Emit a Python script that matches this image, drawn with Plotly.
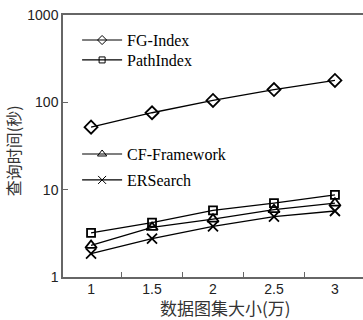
import plotly.graph_objects as go

sizes = [1, 1.5, 2, 2.5, 3]
size_labels = ["1", "1.5", "2", "2.5", "3"]
fg_index = [52, 76, 105, 140, 178]
path_index = [3.2, 4.2, 5.8, 7.0, 8.7]
cf_framework = [2.3, 3.7, 4.6, 5.9, 7.0]
er_search = [1.85, 2.75, 3.8, 4.9, 5.7]
y_ticks = [1, 10, 100, 1000]
y_tick_labels = ["1", "10", "100", "1000"]

fig = go.Figure()
series = [
    ("FG-Index", fg_index, "diamond-open", 10, 7, "legend"),
    ("PathIndex", path_index, "square-open", 8, 6, "legend2"),
    ("CF-Framework", cf_framework, "triangle-up-open", 10, 8, "legend3"),
    ("ERSearch", er_search, "x-thin-open", 10, 8, "legend4"),
]
for name, vals, sym, sz, lsz, lg in series:
    fig.add_trace(go.Scatter(
        x=sizes, y=vals, name=name, mode="lines+markers",
        line=dict(color="black", width=1.3),
        marker=dict(symbol=sym, size=sz, color="black",
                    line=dict(color="black", width=1.8)),
        showlegend=False,
    ))
    # legend-only entry with the smaller, thinner marker of the reference
    fig.add_trace(go.Scatter(
        x=[None], y=[None], name=name, mode="lines+markers",
        line=dict(color="black", width=1.2),
        marker=dict(symbol=sym, size=lsz, color="black",
                    line=dict(color="black", width=1)),
        legend=lg, showlegend=True,
    ))

legend_font = dict(family="Liberation Serif", size=16, color="black")


def lg(ytop):
    return dict(x=0.047, y=ytop, xanchor="left", yanchor="top",
                bgcolor="rgba(0,0,0,0)", font=legend_font,
                tracegroupgap=0, itemwidth=40)


fig.update_layout(
    width=363, height=320,
    margin=dict(l=63, r=0, t=15, b=43),
    paper_bgcolor="white", plot_bgcolor="white",
    showlegend=True,
    legend=lg(0.969),
    legend2=lg(0.893),
    legend3=lg(0.534),
    legend4=lg(0.435),
    xaxis=dict(
        range=[0.77, 3.23], showgrid=False, zeroline=False,
        showline=True, linecolor="#666", linewidth=1.5, mirror=True,
        tickmode="array", tickvals=sizes, ticktext=size_labels, ticks="",
        ticklabelstandoff=-2,
        tickfont=dict(family="Liberation Sans", size=14, color="#222"),
        minor=dict(tickmode="array", tickvals=[1.25, 1.75, 2.25, 2.75],
                   ticks="inside", ticklen=5, tickcolor="#666", tickwidth=1),
    ),
    yaxis=dict(
        type="log", range=[0, 3], showgrid=False, zeroline=False,
        showline=True, linecolor="#666", linewidth=1.5,
        tickmode="array", tickvals=y_ticks, ticktext=y_tick_labels,
        ticks="inside", ticklen=5, tickcolor="#666",
        tickfont=dict(family="Liberation Sans", size=14, color="#222"),
    ),
    annotations=[
        dict(text="数据图集大小(万)", xref="paper", yref="paper",
             x=0.54, y=0, yshift=-44, xanchor="center", yanchor="bottom",
             showarrow=False, borderpad=0,
             font=dict(family="Noto Sans CJK SC", size=17, color="#333")),
        dict(text="查询时间(秒)", xref="paper", yref="paper",
             x=0, xshift=-50, y=0.48, xanchor="center", yanchor="middle",
             textangle=-90, showarrow=False,
             font=dict(family="Noto Sans CJK SC", size=16, color="#333")),
    ],
)

fig.write_html("out.html")
